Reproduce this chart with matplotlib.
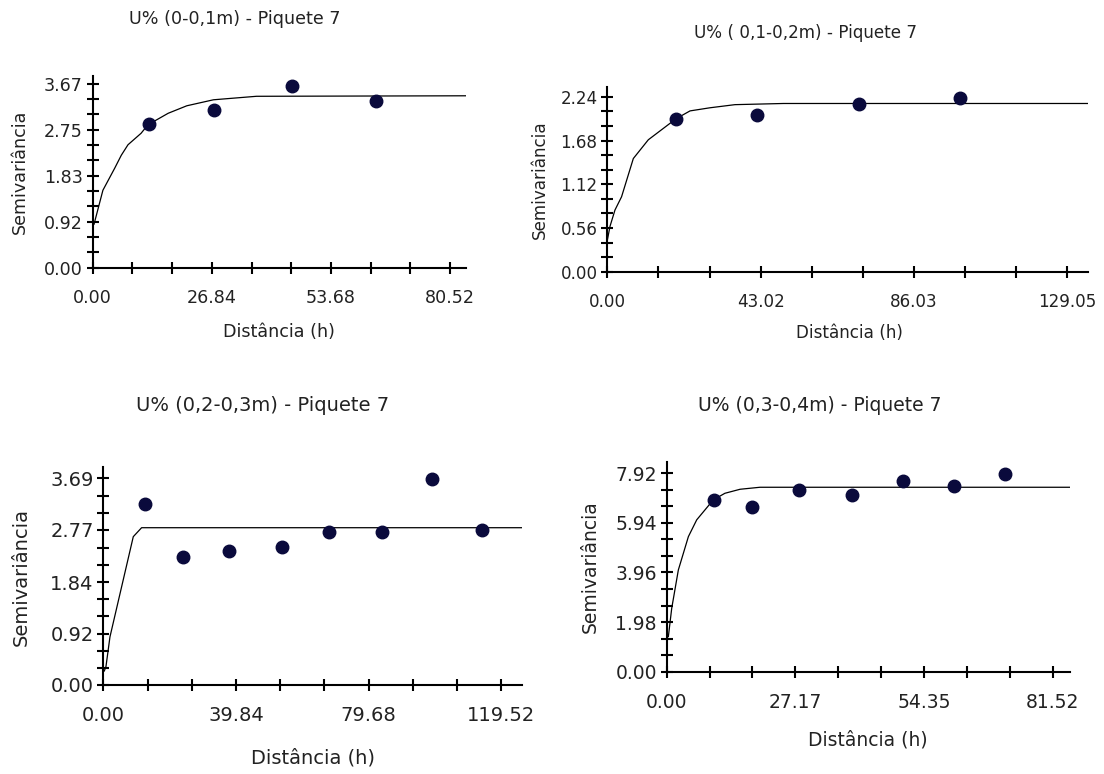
import numpy as np
import matplotlib
matplotlib.use('Agg')
import matplotlib.pyplot as plt

W, H = 1104, 774

# ---- panel 1: U% (0-0,1m)
h1 = [12.7, 27.3, 45.0, 63.8]
g1 = [2.87, 3.16, 3.64, 3.34]
mh1 = [0.3, 2.3, 4.95, 6.44, 7.95, 10.9, 12.45, 17.0, 21.2, 27.2, 36.9, 84.1]
mg1 = [0.87, 1.55, 1.99, 2.25, 2.46, 2.69, 2.86, 3.09, 3.24, 3.36, 3.43, 3.44]
xt1 = [0.00, 26.84, 53.68, 80.52]
yt1 = [0.00, 0.92, 1.83, 2.75, 3.67]

# ---- panel 2: U% (0,1-0,2m)
h2 = [19.3, 42.1, 70.7, 98.9]
g2 = [1.96, 2.01, 2.15, 2.23]
mh2 = [0.0, 0.75, 2.15, 4.0, 7.3, 11.5, 19.3, 23.2, 28.8, 35.8, 49.4, 134.8]
mg2 = [0.40, 0.58, 0.79, 0.96, 1.45, 1.69, 1.96, 2.06, 2.10, 2.14, 2.155, 2.155]
xt2 = [0.00, 43.02, 86.03, 129.05]
yt2 = [0.00, 0.56, 1.12, 1.68, 2.24]

# ---- panel 3: U% (0,2-0,3m)
h3 = [12.5, 23.8, 37.7, 53.6, 67.9, 83.6, 98.6, 113.7]
g3 = [3.23, 2.29, 2.39, 2.47, 2.74, 2.74, 3.68, 2.77]
mh3 = [0.3, 0.8, 2.0, 9.0, 11.5, 125.6]
mg3 = [0.25, 0.33, 0.86, 2.65, 2.81, 2.81]
xt3 = [0.00, 39.84, 79.68, 119.52]
yt3 = [0.00, 0.92, 1.84, 2.77, 3.69]

# ---- panel 4: U% (0,3-0,4m)
h4 = [9.9, 18.0, 28.0, 39.1, 50.0, 60.6, 71.5]
g4 = [6.86, 6.59, 7.26, 7.06, 7.59, 7.43, 7.90]
mh4 = [0.35, 1.06, 2.46, 4.58, 6.34, 9.86, 12.3, 15.5, 19.7, 85.2]
mg4 = [1.40, 2.53, 4.06, 5.39, 6.06, 6.86, 7.12, 7.28, 7.36, 7.36]
xt4 = [0.00, 27.17, 54.35, 81.52]
yt4 = [0.00, 1.98, 3.96, 5.94, 7.92]

titles = ['U% (0-0,1m) - Piquete 7', 'U% ( 0,1-0,2m) - Piquete 7',
          'U% (0,2-0,3m) - Piquete 7', 'U% (0,3-0,4m) - Piquete 7']

fig = plt.figure(figsize=(W / 100, H / 100), dpi=100)


def panel(box, x, y, mx, my, xt, yt, xmax, ymax, fs, title, tpos, xlpos, ylpos):
    x0, y0, x1, y1 = box  # pixel coords, y from top
    ax = fig.add_axes([x0 / W, 1 - y0 / H, (x1 - x0) / W, (y0 - y1) / H])
    ax.plot(mx, my, color='black', lw=0.9, zorder=2)
    ax.plot(x, y, 'o', color='#0a0a3c', ms=9, zorder=3)
    ax.set_xlim(0, xmax)
    ax.set_ylim(0, ymax)
    for s in ['top', 'right']:
        ax.spines[s].set_visible(False)
    for s in ['left', 'bottom']:
        ax.spines[s].set_linewidth(1.5)
    ax.set_xticks(xt)
    ax.set_xticklabels(['%.2f' % v for v in xt])
    ax.set_yticks(yt)
    ax.set_yticklabels(['%.2f' % v for v in yt])
    dx = xt[1] / 3
    dy = yt[1] / 3
    ax.set_xticks([v for v in np.arange(dx, xt[-1], dx) if min(abs(v - t) for t in xt) > dx / 10], minor=True)
    ax.set_yticks([v for v in np.arange(dy, yt[-1], dy) if min(abs(v - t) for t in yt) > dy / 10], minor=True)
    ax.tick_params(which='both', direction='inout', length=8, width=1.5, color='black')
    ax.tick_params(axis='x', which='major', pad=11, labelsize=fs, labelcolor='#222222')
    ax.tick_params(axis='y', which='major', pad=3, labelsize=fs, labelcolor='#222222')
    fig.text(tpos[0] / W, 1 - tpos[1] / H, title, ha='center', va='center', fontsize=fs, color='#222222')
    fig.text(xlpos[0] / W, 1 - xlpos[1] / H, 'Distância (h)', ha='center', va='center', fontsize=fs, color='#222222')
    fig.text(ylpos[0] / W, 1 - ylpos[1] / H, 'Semivariância', ha='center', va='center', fontsize=fs,
             rotation=90, color='#222222')
    return ax


panel((92.7, 267.7, 466, 76), h1, g1, mh1, mg1, xt1, yt1, 84.1, 3.836, 12.6,
      titles[0], (235, 19), (279, 332), (20, 172))
panel((607.3, 271.7, 1088, 86.7), h2, g2, mh2, mg2, xt2, yt2, 134.8, 2.37, 12.1,
      titles[1], (806, 33), (849, 333), (540, 180))
panel((103.3, 685, 521.7, 466.7), h3, g3, mh3, mg3, xt3, yt3, 125.6, 3.90, 14,
      titles[2], (263, 405), (313, 758), (21, 577))
panel((666.7, 671.7, 1070, 461.7), h4, g4, mh4, mg4, xt4, yt4, 85.2, 8.38, 13.5,
      titles[3], (820, 405), (868, 740), (590, 567))

fig.savefig('out.png', dpi=100)
